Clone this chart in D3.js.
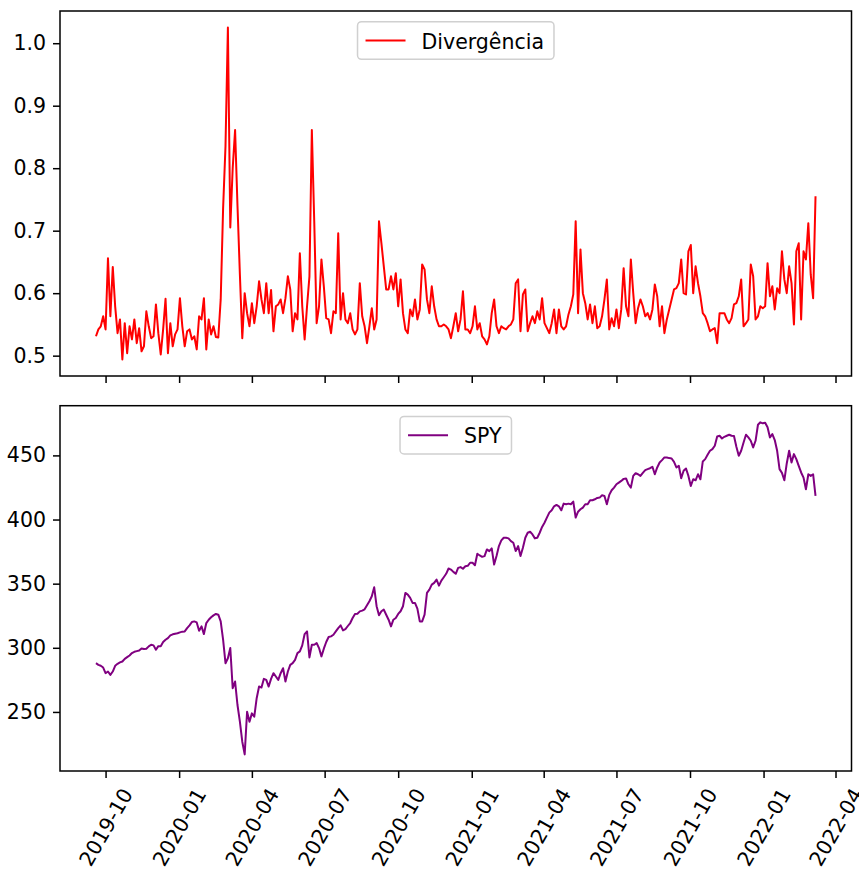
<!DOCTYPE html>
<html><head><meta charset="utf-8">
<script src="https://cdn.jsdelivr.net/npm/d3@7"></script>
<style>body{margin:0;background:#fff} text{font-family:"DejaVu Sans",sans-serif}</style>
</head><body><svg id="c" width="859" height="870"></svg>
<script>
// ---- data ----
const startDate = "2019-09-19";
const stepDays = 3;
const seriesNames = ["Divergência", "SPY"];
const seriesColors = ["#ff0000", "#800080"];
const divergencia = [
0.531,0.542,0.547,0.563,0.542,0.656,0.563,0.642,0.579,0.536,
0.558,0.494,0.552,0.504,0.547,0.526,0.558,0.520,0.544,0.507,
0.515,0.571,0.547,0.528,0.531,0.582,0.536,0.502,0.542,0.591,
0.504,0.552,0.515,0.534,0.542,0.592,0.547,0.515,0.539,0.542,
0.526,0.531,0.510,0.563,0.558,0.592,0.510,0.558,0.534,0.547,
0.530,0.529,0.590,0.735,0.835,1.025,0.705,0.800,0.861,0.740,
0.630,0.528,0.600,0.568,0.547,0.584,0.552,0.579,0.619,0.590,
0.568,0.616,0.568,0.605,0.539,0.579,0.582,0.590,0.568,0.592,
0.627,0.606,0.539,0.568,0.558,0.664,0.579,0.526,0.579,0.627,
0.861,0.715,0.552,0.579,0.654,0.611,0.560,0.558,0.536,0.571,
0.568,0.696,0.558,0.600,0.558,0.552,0.568,0.542,0.534,0.542,
0.616,0.563,0.547,0.520,0.547,0.576,0.542,0.558,0.715,0.680,
0.643,0.606,0.606,0.627,0.606,0.632,0.579,0.622,0.568,0.542,
0.536,0.574,0.563,0.590,0.558,0.574,0.646,0.638,0.590,0.568,
0.611,0.579,0.558,0.547,0.547,0.550,0.547,0.542,0.528,0.547,
0.568,0.539,0.558,0.603,0.542,0.542,0.536,0.547,0.579,0.542,
0.552,0.531,0.526,0.518,0.531,0.568,0.590,0.547,0.536,0.547,
0.544,0.542,0.547,0.550,0.558,0.616,0.622,0.539,0.598,0.606,
0.539,0.552,0.563,0.552,0.571,0.558,0.592,0.552,0.544,0.536,
0.552,0.574,0.536,0.574,0.547,0.542,0.547,0.566,0.579,0.598,
0.715,0.568,0.670,0.600,0.584,0.558,0.582,0.552,0.579,0.544,
0.547,0.563,0.590,0.622,0.542,0.560,0.547,0.574,0.544,0.574,
0.640,0.579,0.563,0.654,0.600,0.552,0.576,0.590,0.579,0.563,
0.568,0.558,0.574,0.614,0.595,0.547,0.579,0.536,0.558,0.574,
0.590,0.606,0.608,0.616,0.654,0.600,0.598,0.667,0.677,0.600,
0.643,0.616,0.595,0.568,0.563,0.552,0.539,0.542,0.544,0.520,
0.568,0.568,0.568,0.558,0.552,0.560,0.582,0.584,0.595,0.622,
0.547,0.552,0.558,0.646,0.627,0.558,0.563,0.579,0.576,0.579,
0.648,0.595,0.611,0.574,0.608,0.600,0.667,0.622,0.600,0.643,
0.616,0.550,0.667,0.680,0.558,0.667,0.654,0.712,0.630,0.592,
0.755];
const spy = [
288.0,286.7,286.0,284.6,280.2,281.5,278.9,281.5,286.0,287.5,
288.6,289.3,291.4,292.7,294.0,295.9,296.9,297.4,297.9,299.5,
299.0,299.3,301.1,302.4,301.9,298.5,301.3,301.3,304.5,306.3,
307.6,309.7,310.5,311.0,311.3,312.0,312.6,312.8,315.4,317.5,
320.1,320.6,319.8,313.3,316.7,310.7,319.3,321.9,323.8,325.3,
326.4,325.8,320.6,306.3,288.0,291.9,299.8,268.5,273.7,255.4,
242.4,226.8,216.9,250.2,242.4,248.9,246.3,260.7,269.8,269.0,
275.8,275.0,269.8,275.8,280.2,277.6,275.0,280.2,284.1,273.7,
281.5,286.7,288.0,290.6,295.9,297.2,301.9,310.7,312.8,292.5,
302.4,302.4,303.7,299.8,293.3,299.3,304.5,308.4,308.9,310.2,
312.8,315.4,317.5,313.6,314.6,317.0,319.3,323.2,326.4,326.6,
328.4,329.0,330.0,333.1,336.3,340.2,347.2,332.4,325.3,328.5,
329.8,325.8,321.9,316.7,321.9,323.2,326.4,328.5,332.4,342.8,
341.5,338.9,335.0,335.0,330.5,320.6,320.6,325.8,342.8,345.4,
349.3,350.6,353.2,348.5,352.4,355.0,357.7,361.8,361.0,359.2,
357.7,362.3,362.9,361.6,363.6,363.9,366.3,366.3,364.4,373.3,
372.0,370.9,371.5,376.7,375.4,377.5,364.9,371.5,379.3,383.7,
385.8,385.8,385.3,383.2,381.9,375.4,379.3,371.5,378.0,385.8,
389.7,390.5,388.4,385.3,385.8,389.7,394.2,397.5,401.5,405.4,
407.2,410.3,411.4,410.3,407.2,412.4,411.9,412.4,411.9,414.0,
401.5,406.1,408.0,409.3,411.9,411.9,415.0,415.0,415.8,416.8,
417.1,418.9,418.4,411.9,419.2,422.8,424.9,427.5,428.8,430.1,
431.7,432.0,427.5,424.9,434.0,436.1,435.3,434.0,436.4,438.5,
439.3,440.0,441.1,435.3,440.6,444.5,446.3,448.4,448.4,447.9,
447.6,445.0,440.6,441.9,432.2,438.0,439.8,434.0,426.2,431.4,
430.6,435.3,431.4,445.3,447.1,450.5,453.6,454.9,457.5,464.8,
465.3,463.2,464.5,465.3,466.1,465.3,465.1,456.7,449.7,453.6,
460.1,466.1,464.0,461.4,456.2,461.4,473.9,475.8,475.0,475.5,
471.9,464.0,466.6,462.0,453.6,439.3,436.4,430.6,443.7,453.6,
444.5,451.0,447.1,441.9,436.7,432.7,423.6,435.3,434.0,435.3,
418.4];
const yTicksTop = [0.5, 0.6, 0.7, 0.8, 0.9, 1.0];
const yTicksBottom = [250, 300, 350, 400, 450];
const xTickFormat = "%Y-%m";

// ---- layout ----
const FS = 20.5;
const L = 60, R = 851.5;
const panels = [
  {top: 11, bottom: 376, values: divergencia, ticks: yTicksTop, fmt: d3.format(".1f"), name: seriesNames[0], color: seriesColors[0], labels: false},
  {top: 405.7, bottom: 771, values: spy, ticks: yTicksBottom, fmt: d3.format("d"), name: seriesNames[1], color: seriesColors[1], labels: true}
];
const svg = d3.select("#c");
const t0 = d3.utcParse("%Y-%m-%d")(startDate);
const dates = divergencia.map((_, i) => d3.utcDay.offset(t0, i * stepDays));
const ext = d3.extent(dates);
const span = ext[1] - ext[0];
const x = d3.scaleUtc().domain([new Date(+ext[0] - 0.05 * span), new Date(+ext[1] + 0.05 * span)]).range([L, R]);
const monthTicks = d3.utcMonth.every(3).range(x.domain()[0], x.domain()[1]);

panels.forEach(p => {
  const e = d3.extent(p.values);
  const pad = (e[1] - e[0]) * 0.05;
  const y = d3.scaleLinear().domain([e[0] - pad, e[1] + pad]).range([p.bottom, p.top]);
  const g = svg.append("g");

  g.append("path").datum(p.values)
    .attr("fill", "none").attr("stroke", p.color).attr("stroke-width", 2)
    .attr("stroke-linejoin", "round")
    .attr("d", d3.line().x((d, i) => x(dates[i])).y(d => y(d)));

  const ya = g.append("g").attr("transform", `translate(${L},0)`)
    .call(d3.axisLeft(y).tickValues(p.ticks).tickFormat(p.fmt).tickSize(7).tickPadding(7));
  ya.select(".domain").remove();
  ya.selectAll("line").attr("stroke", "#000").attr("stroke-width", 1.5);
  ya.selectAll("text").attr("font-size", FS).attr("fill", "#000").attr("font-family", "DejaVu Sans");

  const xa = g.append("g").attr("transform", `translate(0,${p.bottom})`)
    .call(d3.axisBottom(x).tickValues(monthTicks).tickFormat(p.labels ? d3.utcFormat(xTickFormat) : "").tickSize(7).tickPadding(7));
  xa.select(".domain").remove();
  xa.selectAll("line").attr("stroke", "#000").attr("stroke-width", 1.5);
  if (p.labels) {
    xa.selectAll("text").attr("font-size", FS).attr("fill", "#000").attr("font-family", "DejaVu Sans")
      .attr("y", null).attr("dy", null)
      .attr("text-anchor", "middle").attr("dominant-baseline", "central")
      .each(function() {
        const len = this.getComputedTextLength();
        const h = len * Math.sin(Math.PI / 3) + FS * Math.cos(Math.PI / 3);
        d3.select(this).attr("transform", `translate(0,${7 + 7 + h / 2}) rotate(-60)`);
      });
  }

  g.append("rect").attr("x", L).attr("y", p.top).attr("width", R - L).attr("height", p.bottom - p.top)
    .attr("fill", "none").attr("stroke", "#000").attr("stroke-width", 1.5);

  const lg = g.append("g");
  const txt = lg.append("text").text(p.name).attr("font-size", FS).attr("fill", "#000")
    .attr("dominant-baseline", "central");
  const tw = txt.node().getComputedTextLength();
  const bw = 8 + 40 + 16 + tw + 10;
  const bh = 37.6;
  const cx = (L + R) / 2;
  const bx = cx - bw / 2, by = p.top + 10.7;
  lg.insert("rect", "text").attr("x", bx).attr("y", by).attr("width", bw).attr("height", bh)
    .attr("rx", 4).attr("fill", "#fff").attr("fill-opacity", 0.8)
    .attr("stroke", "#d0d0d0").attr("stroke-width", 1.5);
  lg.append("line").attr("x1", bx + 8).attr("x2", bx + 48).attr("y1", by + bh / 2).attr("y2", by + bh / 2)
    .attr("stroke", p.color).attr("stroke-width", 2);
  txt.attr("x", bx + 64).attr("y", by + bh / 2 + 1);
});
</script></body></html>
